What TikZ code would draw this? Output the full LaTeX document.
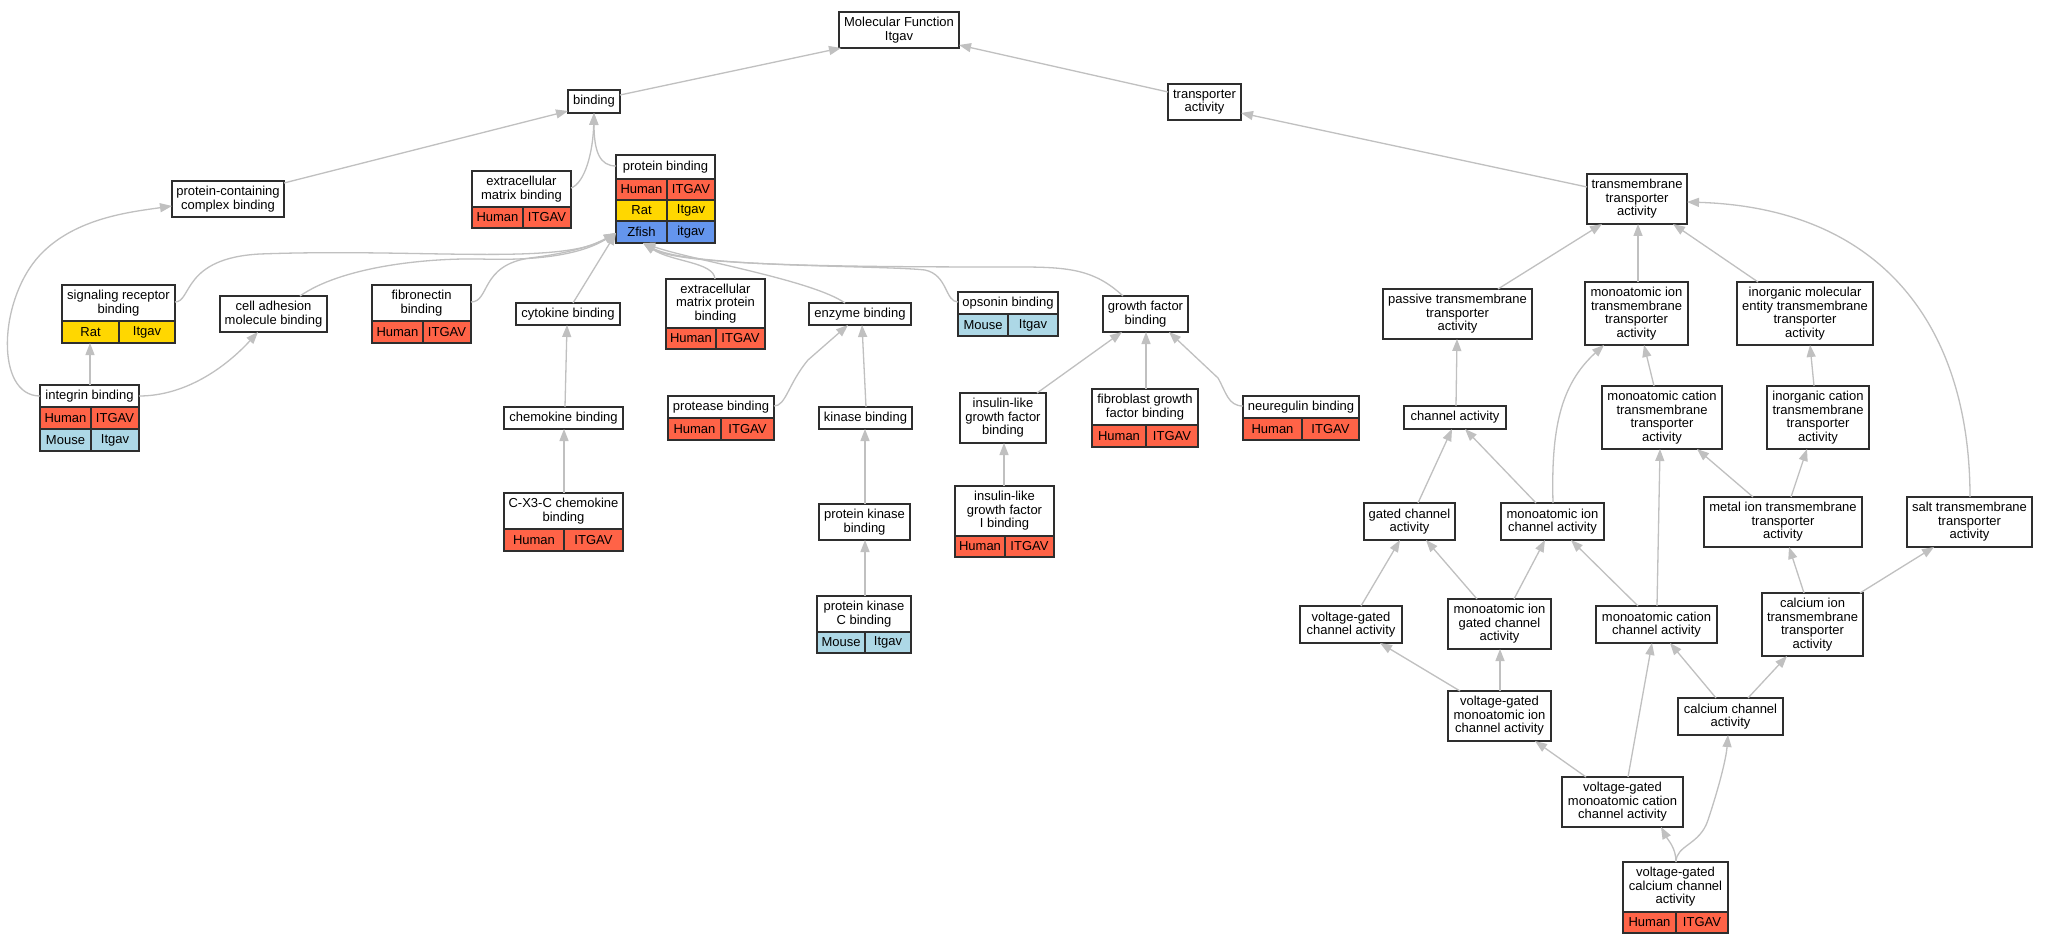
\documentclass[tikz,border=0pt]{standalone}
\usepackage{fontspec}
\setmainfont{Liberation Sans}
\usetikzlibrary{arrows.meta}
\definecolor{human}{HTML}{FF6347}
\definecolor{rat}{HTML}{FFD700}
\definecolor{zfish}{HTML}{6495ED}
\definecolor{mouse}{HTML}{ADD8E6}
\definecolor{egray}{HTML}{C0C0C0}
\definecolor{bord}{HTML}{2E2E2E}
\newcommand\lbfont{\fontsize{13}{13.5}\selectfont}
% plain term box: name x0 y0 x1 y1 text
\newcommand\term[6]{\node[term, minimum width={(#4-#2)*1pt}, minimum height={(#5-#3)*1pt}] (#1) at ({(#2+#4)/2},{(#3+#5)/2}) {#6};}
% table term: name x0 y0 x1 y1 ylabel text
\newcommand\tnode[7]{%
  \node[tframe, minimum width={(#4-#2)*1pt}, minimum height={(#5-#3)*1pt}] (#1) at ({(#2+#4)/2},{(#3+#5)/2}) {};
  \node[lbl] (#1-t) at ({(#2+#4)/2},{(#3+#6)/2}) {#7};}
% table row: name x0 y0 x1 y1 xsplit colour left right
\newcommand\trow[9]{%
  \filldraw[fill=#7, tline] (#2,#3) rectangle (#4,#5);
  \draw[tline] (#6,#3) -- (#6,#5);
  \node[lbl] (#1a) at ({(#2+#6)/2},{(#3+#5)/2}) {#8};
  \node[lbl] (#1b) at ({(#6+#4)/2},{(#3+#5)/2}) {#9};}
\begin{document}
\begin{tikzpicture}[x=1pt,y=-1pt,
  term/.style={draw=bord, line width=1.5pt, fill=white, font=\lbfont, align=center, inner sep=0pt, outer sep=0pt},
  tframe/.style={draw=bord, line width=1.5pt, fill=white, inner sep=0pt, outer sep=0pt},
  lbl/.style={font=\lbfont, align=center, inner sep=0pt},
  tline/.style={draw=bord, line width=1.5pt},
  conn/.style={draw=egray, line width=1.3pt, -{Triangle[length=12pt,width=9pt]}}]
\fill[white] (0,0) rectangle (2048,944);
\useasboundingbox (0,0) rectangle (2048,944);

% ---------- plain nodes ----------
\term{MF}{839}{12}{959}{48}{Molecular Function\\Itgav}
\term{binding}{568}{90}{620}{113}{binding}
\term{tr}{1168}{84}{1241}{120}{transporter\\activity}
\term{pccb}{172}{181}{284}{217}{protein-containing\\complex binding}
\term{tt}{1587}{174}{1687}{224}{transmembrane\\transporter\\activity}
\term{cam}{220}{296}{327}{332}{cell adhesion\\molecule binding}
\term{cyto}{516}{303}{620}{325}{cytokine binding}
\term{eb}{809}{303}{911}{325}{enzyme binding}
\term{gfb}{1103}{296}{1188}{332}{growth factor\\binding}
\term{ptt}{1383}{289}{1532}{339}{passive transmembrane\\transporter\\activity}
\term{mitt}{1585}{282}{1688}{345}{monoatomic ion\\transmembrane\\transporter\\activity}
\term{imett}{1737}{282}{1873}{345}{inorganic molecular\\entity transmembrane\\transporter\\activity}
\term{kb}{819}{407}{912}{429}{kinase binding}
\term{ilgfb}{960}{393}{1046}{443}{insulin-like\\growth factor\\binding}
\term{chemo}{504}{407}{623}{429}{chemokine binding}
\term{ca}{1404}{406}{1506}{429}{channel activity}
\term{mctt}{1602}{386}{1722}{449}{monoatomic cation\\transmembrane\\transporter\\activity}
\term{ictt}{1767}{386}{1869}{449}{inorganic cation\\transmembrane\\transporter\\activity}
\term{pkb}{819}{504}{910}{540}{protein kinase\\binding}
\term{gca}{1364}{503}{1455}{540}{gated channel\\activity}
\term{mica}{1501}{503}{1604}{540}{monoatomic ion\\channel activity}
\term{metal}{1704}{497}{1862}{547}{metal ion transmembrane\\transporter\\activity}
\term{salt}{1907}{497}{2032}{547}{salt transmembrane\\transporter\\activity}
\term{vgca}{1300}{606}{1402}{643}{voltage-gated\\channel activity}
\term{migca}{1448}{599}{1551}{649}{monoatomic ion\\gated channel\\activity}
\term{mcca}{1596}{606}{1717}{643}{monoatomic cation\\channel activity}
\term{citt}{1762}{593}{1863}{656}{calcium ion\\transmembrane\\transporter\\activity}
\term{vgmica}{1448}{691}{1551}{741}{voltage-gated\\monoatomic ion\\channel activity}
\term{cca}{1678}{698}{1783}{735}{calcium channel\\activity}
\term{vgmcca}{1562}{777}{1683}{827}{voltage-gated\\monoatomic cation\\channel activity}

% ---------- table nodes ----------
\tnode{emb}{472}{171}{571}{228}{207}{extracellular\\matrix binding}
\trow{emb-h}{472}{207}{571}{228}{523}{human}{Human}{ITGAV}

\tnode{pb}{616}{155}{715}{243}{179}{protein binding}
\trow{pb-h}{616}{179}{715}{200}{667}{human}{Human}{ITGAV}
\trow{pb-r}{616}{200}{715}{221}{667}{rat}{Rat}{Itgav}
\trow{pb-z}{616}{221}{715}{243}{667}{zfish}{Zfish}{itgav}

\tnode{srb}{62}{285}{175}{343}{321}{signaling receptor\\binding}
\trow{srb-r}{62}{321}{175}{343}{119}{rat}{Rat}{Itgav}

\tnode{fib}{372}{285}{471}{343}{321}{fibronectin\\binding}
\trow{fib-h}{372}{321}{471}{343}{423}{human}{Human}{ITGAV}

\tnode{emp}{666}{279}{765}{349}{328}{extracellular\\matrix protein\\binding}
\trow{emp-h}{666}{328}{765}{349}{716}{human}{Human}{ITGAV}

\tnode{ob}{958}{292}{1058}{336}{314}{opsonin binding}
\trow{ob-m}{958}{314}{1058}{336}{1008}{mouse}{Mouse}{Itgav}

\tnode{ib}{40}{385}{139}{451}{407}{integrin binding}
\trow{ib-h}{40}{407}{139}{429}{91}{human}{Human}{ITGAV}
\trow{ib-m}{40}{429}{139}{451}{91}{mouse}{Mouse}{Itgav}

\tnode{prot}{668}{396}{774}{440}{418}{protease binding}
\trow{prot-h}{668}{418}{774}{440}{721}{human}{Human}{ITGAV}

\tnode{fgfb}{1092}{389}{1198}{447}{425}{fibroblast growth\\factor binding}
\trow{fgfb-h}{1092}{425}{1198}{447}{1146}{human}{Human}{ITGAV}

\tnode{nrg}{1243}{396}{1359}{440}{418}{neuregulin binding}
\trow{nrg-h}{1243}{418}{1359}{440}{1302}{human}{Human}{ITGAV}

\tnode{cx3c}{504}{493}{623}{551}{529}{C-X3-C chemokine\\binding}
\trow{cx3c-h}{504}{529}{623}{551}{564}{human}{Human}{ITGAV}

\tnode{ilgf1}{955}{486}{1054}{557}{536}{insulin-like\\growth factor\\I binding}
\trow{ilgf1-h}{955}{536}{1054}{557}{1005}{human}{Human}{ITGAV}

\tnode{pkcb}{817}{596}{911}{653}{632}{protein kinase\\C binding}
\trow{pkcb-m}{817}{632}{911}{653}{865}{mouse}{Mouse}{Itgav}

\tnode{vgcca}{1623}{862}{1728}{933}{912}{voltage-gated\\calcium channel\\activity}
\trow{vgcca-h}{1623}{912}{1728}{933}{1676}{human}{Human}{ITGAV}

% ---------- connectors ----------
\draw[conn] (binding.east |- 0,95) -- (MF.south -| 841,0);
\draw[conn] (tr.west |- 0,92) -- (MF.east |- 0,45);
\draw[conn] (pccb.east |- 0,183) -- (binding.west |- 0,111);
\draw[conn] (emb.east |- 0,188) .. controls (585,183) and (593,152) .. (binding.south);
\draw[conn] (pb.west |- 0,166) .. controls (600,166) and (594,152) .. (binding.south);
\draw[conn] (tt.west |- 0,187) -- (tr.east |- 0,113);

\draw[conn] (ib.west |- 0,396) .. controls (-5,396) and (-2,300) .. (40,255) .. controls (75,218) and (130,212) .. (pccb.west |- 0,206);
\draw[conn] (ib.north -| 90,0) -- (srb.south -| 90,0);
\draw[conn] (ib.east |- 0,396) .. controls (185,396) and (225,368) .. (cam.south -| 258,0);

\draw[conn] (srb.east |- 0,302) .. controls (192,302) and (182,258) .. (260,254) .. controls (420,248) and (560,266) .. (pb.west |- 0,233);
\draw[conn] (cam.north -| 300,0) .. controls (340,268) and (420,258) .. (480,259) .. controls (540,261) and (582,254) .. (pb.west |- 0,233);
\draw[conn] (fib.east |- 0,302) .. controls (490,302) and (480,265) .. (530,258) .. controls (570,253) and (592,246) .. (pb.west |- 0,233);
\draw[conn] (cyto.north -| 573,0) -- (pb.west |- 0,233);
\draw[conn] (emp.north -| 715,0) .. controls (714,262) and (672,262) .. (pb.south -| 643,0);
\draw[conn] (eb.north -| 845,0) .. controls (812,280) and (692,260) .. (pb.south -| 643,0);
\draw[conn] (ob.west |- 0,302) .. controls (945,302) and (948,275) .. (925,270) .. controls (880,265) and (690,268) .. (pb.south -| 643,0);
\draw[conn] (gfb.north -| 1123,0) .. controls (1095,270) and (1070,267) .. (1020,267) .. controls (850,267) and (680,266) .. (pb.south -| 643,0);

\draw[conn] (chemo.north -| 565,0) -- (cyto.south -| 567,0);
\draw[conn] (cx3c.north -| 564,0) -- (chemo.south -| 564,0);
\draw[conn] (prot.east |- 0,406) .. controls (786,406) and (788,384) .. (808,360) -- (eb.south -| 848,0);
\draw[conn] (kb.north -| 866,0) -- (eb.south -| 862,0);
\draw[conn] (pkb.north -| 865,0) -- (kb.south -| 865,0);
\draw[conn] (pkcb.north -| 865,0) -- (pkb.south -| 865,0);
\draw[conn] (ilgfb.north -| 1037,0) -- (gfb.south -| 1122,0);
\draw[conn] (fgfb.north -| 1146,0) -- (gfb.south -| 1146,0);
\draw[conn] (nrg.west |- 0,406) .. controls (1228,406) and (1226,392) .. (1218,378) -- (gfb.south -| 1169,0);
\draw[conn] (ilgf1.north -| 1004,0) -- (ilgfb.south -| 1004,0);

\draw[conn] (ptt.north -| 1498,0) -- (tt.south -| 1602,0);
\draw[conn] (mitt.north -| 1638,0) -- (tt.south -| 1638,0);
\draw[conn] (imett.north -| 1758,0) -- (tt.south -| 1673,0);
\draw[conn] (salt.north -| 1970,0) .. controls (1970,330) and (1885,208) .. (tt.east |- 0,202);
\draw[conn] (ca.north -| 1456,0) -- (ptt.south -| 1457,0);
\draw[conn] (mctt.north -| 1654,0) -- (mitt.south -| 1644,0);
\draw[conn] (ictt.north -| 1814,0) -- (imett.south -| 1810,0);
\draw[conn] (gca.north -| 1418,0) -- (ca.south -| 1452,0);
\draw[conn] (mica.north -| 1536,0) -- (ca.south -| 1465,0);
\draw[conn] (mica.north -| 1553,0) .. controls (1551,430) and (1560,385) .. (mitt.south -| 1604,0);
\draw[conn] (metal.north -| 1753,0) -- (mctt.south -| 1697,0);
\draw[conn] (metal.north -| 1791,0) -- (ictt.south -| 1807,0);
\draw[conn] (mcca.north -| 1657,0) -- (mctt.south -| 1660,0);
\draw[conn] (mcca.north -| 1638,0) -- (mica.south -| 1571,0);
\draw[conn] (vgca.north -| 1361,0) -- (gca.south -| 1400,0);
\draw[conn] (migca.north -| 1477,0) -- (gca.south -| 1426,0);
\draw[conn] (migca.north -| 1514,0) -- (mica.south -| 1545,0);
\draw[conn] (citt.north -| 1804,0) -- (metal.south -| 1789,0);
\draw[conn] (citt.north -| 1860,0) -- (salt.south -| 1934,0);
\draw[conn] (vgmica.north -| 1460,0) -- (vgca.south -| 1380,0);
\draw[conn] (vgmica.north -| 1500,0) -- (migca.south -| 1500,0);
\draw[conn] (cca.north -| 1716,0) -- (mcca.south -| 1670,0);
\draw[conn] (cca.north -| 1748,0) -- (citt.south -| 1787,0);
\draw[conn] (vgmcca.north -| 1586,0) -- (vgmica.south -| 1535,0);
\draw[conn] (vgmcca.north -| 1628,0) -- (mcca.south -| 1652,0);
\draw[conn] (vgcca.north -| 1676,0) .. controls (1676,848) and (1668,840) .. (vgmcca.south -| 1661,0);
\draw[conn] (vgcca.north -| 1676,0) .. controls (1676,845) and (1700,845) .. (1708,820) .. controls (1718,790) and (1726,760) .. (cca.south -| 1728,0);
\end{tikzpicture}
\end{document}
